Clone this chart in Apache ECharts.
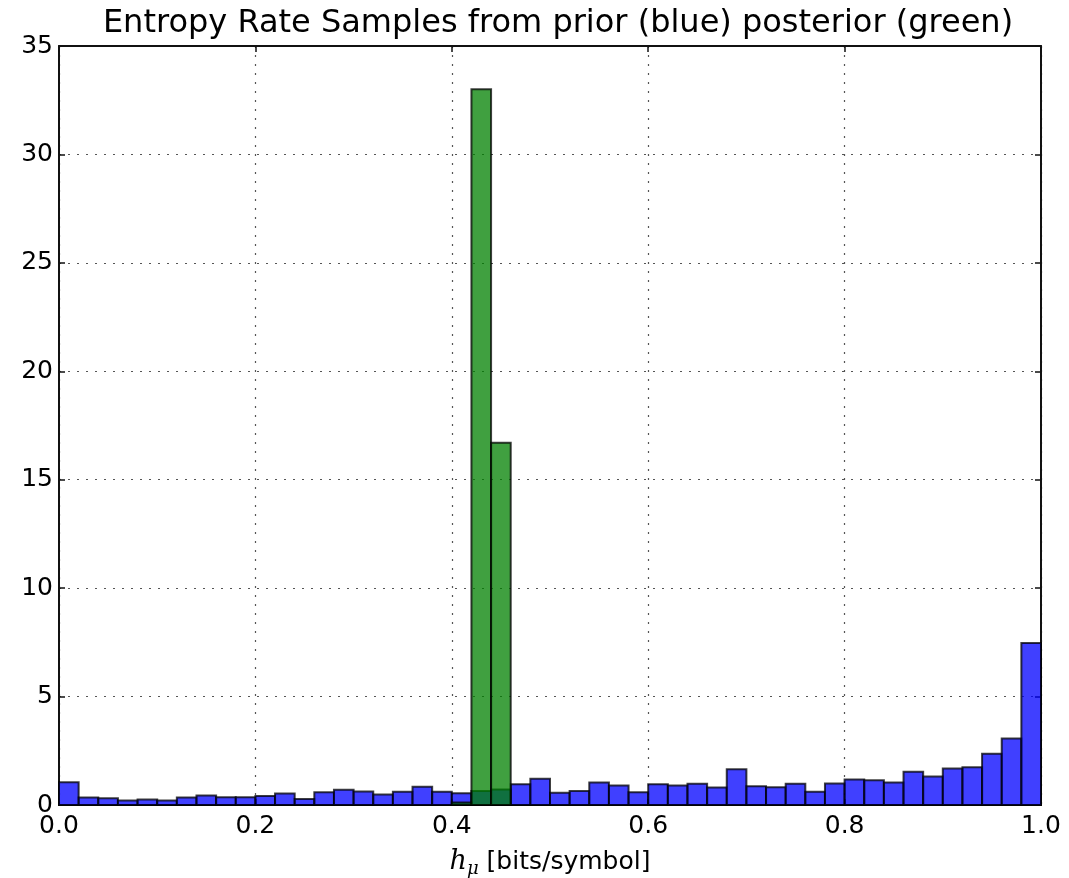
<!DOCTYPE html>
<html>
<head>
<meta charset="utf-8">
<script src="https://cdn.jsdelivr.net/npm/echarts@6/dist/echarts.min.js"></script>
<style>
  html, body { margin: 0; padding: 0; background: #fff; }
  #chart { width: 1069px; height: 878px; }
</style>
</head>
<body>
<div id="chart"></div>
<script>
// Histogram bins: 50 equal-width bins on [0, 1]
const binWidth = 0.02;
const binCount = 50;

// Prior samples (blue), density per bin
const priorDensity = [
  1.05, 0.35, 0.31, 0.21, 0.25, 0.21, 0.35, 0.44, 0.36, 0.36,
  0.42, 0.53, 0.28, 0.59, 0.70, 0.62, 0.48, 0.61, 0.84, 0.61,
  0.54, 0.64, 0.72, 0.96, 1.21, 0.56, 0.64, 1.04, 0.90, 0.59,
  0.96, 0.90, 0.98, 0.81, 1.65, 0.87, 0.82, 0.98, 0.61, 0.99,
  1.18, 1.14, 1.04, 1.53, 1.31, 1.68, 1.74, 2.36, 3.07, 7.47
];

// Posterior samples (green): only non-empty bins, [bin index, density]
const posteriorBins = [20, 21, 22];
const posteriorDensity = [0.12, 33.0, 16.7];

// Axis ticks
const xTicks = [0.0, 0.2, 0.4, 0.6, 0.8, 1.0];
const yTicks = [0, 5, 10, 15, 20, 25, 30, 35];

const priorData = priorDensity.map((h, i) => [i * binWidth, (i + 1) * binWidth, h]);
const posteriorData = posteriorBins.map((b, k) => [b * binWidth, (b + 1) * binWidth, posteriorDensity[k]]);

function barRenderer(fill) {
  return function (params, api) {
    const p0 = api.coord([api.value(0), api.value(2)]);
    const p1 = api.coord([api.value(1), 0]);
    return {
      type: 'rect',
      shape: { x: p0[0], y: p0[1], width: p1[0] - p0[0], height: p1[1] - p0[1] },
      style: { fill: fill, stroke: 'rgba(0,0,0,0.75)', lineWidth: 2 }
    };
  };
}

const font = 'DejaVu Sans';
const dotted = { color: '#555', width: 1.2, type: [2, 7] };
// Box frame: every axis keeps its line on its own grid edge
const frame = { show: true, onZero: false, lineStyle: { color: '#111', width: 2 } };
const tick = { show: true, inside: true, length: 6, lineStyle: { color: '#111', width: 1.5 } };

const chart = echarts.init(document.getElementById('chart'), null, { renderer: 'canvas' });
chart.setOption({
  animation: false,
  backgroundColor: '#fff',
  title: {
    text: 'Entropy Rate Samples from prior (blue) posterior (green)',
    left: 553, top: 3, textAlign: 'center',
    textStyle: { fontFamily: font, fontSize: 32, fontWeight: 'normal', color: '#000' }
  },
  grid: { left: 59, right: 28, top: 46, bottom: 73, containLabel: false, outerBoundsMode: 'none' },
  xAxis: [
    {
      type: 'value', min: 0, max: 1, interval: 0.2, position: 'bottom',
      axisLine: frame, axisTick: tick,
      axisLabel: {
        fontFamily: font, fontSize: 25, color: '#000', margin: 9,
        formatter: v => (xTicks.find(t => Math.abs(t - v) < 1e-9) ?? v).toFixed(1)
      },
      splitLine: { show: true, lineStyle: dotted },
      name: '{h|h}{mu|μ}{t| [bits/symbol]}',
      nameLocation: 'middle', nameGap: 41,
      nameTextStyle: {
        rich: {
          h: { fontFamily: 'DejaVu Serif', fontStyle: 'italic', fontSize: 27, color: '#000' },
          mu: { fontFamily: 'DejaVu Serif', fontStyle: 'italic', fontSize: 18, color: '#000', padding: [14, 0, 0, 0] },
          t: { fontFamily: font, fontSize: 25, color: '#000' }
        }
      }
    },
    {
      type: 'value', min: 0, max: 1, interval: 0.2, position: 'top',
      axisLine: frame, axisTick: tick,
      axisLabel: { show: false },
      splitLine: { show: false }
    }
  ],
  yAxis: [
    {
      type: 'value', min: 0, max: 35, interval: 5, position: 'left',
      axisLine: frame, axisTick: tick,
      axisLabel: { fontFamily: font, fontSize: 25, color: '#000', margin: 6 },
      splitLine: { show: true, lineStyle: dotted }
    },
    {
      type: 'value', min: 0, max: 35, interval: 5, position: 'right',
      axisLine: frame, axisTick: tick,
      axisLabel: { show: false },
      splitLine: { show: false }
    }
  ],
  series: [
    {
      name: 'prior', type: 'custom', xAxisIndex: 0, yAxisIndex: 0,
      renderItem: barRenderer('rgba(0,0,255,0.75)'),
      encode: { x: [0, 1], y: 2 },
      data: priorData, z: 2
    },
    {
      name: 'posterior', type: 'custom', xAxisIndex: 0, yAxisIndex: 0,
      renderItem: barRenderer('rgba(0,128,0,0.75)'),
      encode: { x: [0, 1], y: 2 },
      data: posteriorData, z: 3
    }
  ]
});
</script>
</body>
</html>
